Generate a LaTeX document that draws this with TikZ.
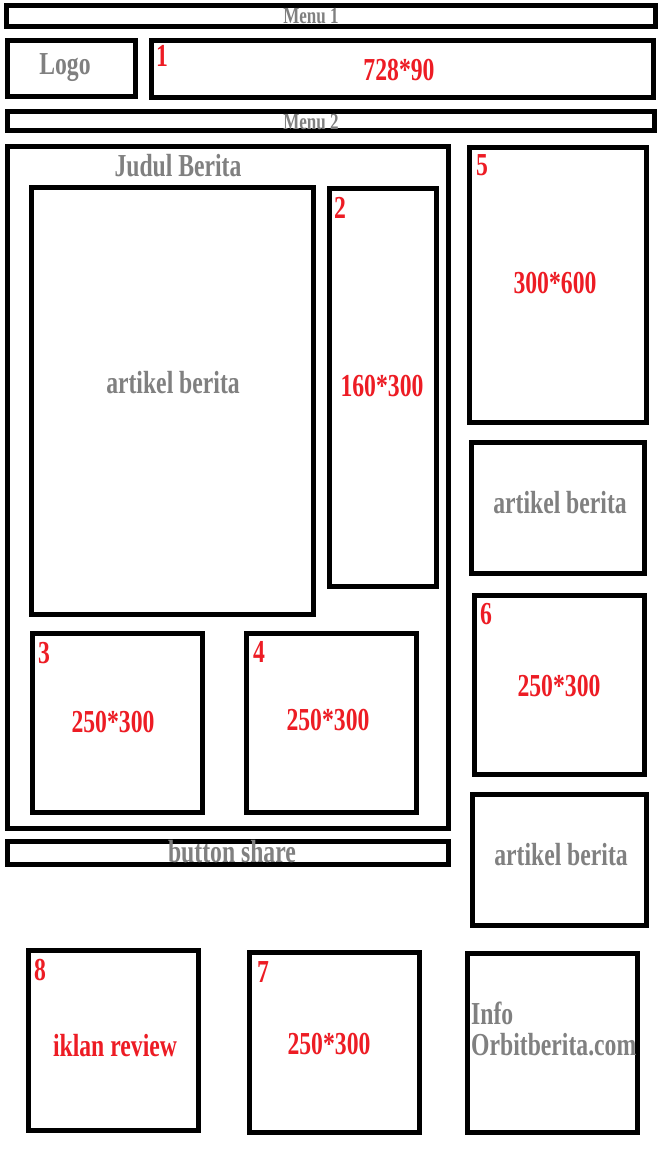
\documentclass[tikz,border=0pt]{standalone}
\usepackage{fontspec}
\setmainfont{Liberation Serif}[FakeStretch=0.74]
\definecolor{adred}{RGB}{237,28,36}
\definecolor{txtgray}{RGB}{128,128,128}
\begin{document}
\begin{tikzpicture} [x=1pt, y=-1pt, line join=miter, font=\bfseries\fontsize{32}{34}\selectfont,
  box/.style={draw=black, line width=5pt},
  gtxt/.style={text=txtgray, inner sep=0pt},
  rtxt/.style={text=adred, inner sep=0pt},
  num/.style={text=adred, inner sep=0pt, anchor=west}]
\def \W{663}\def \H{1164}
\useasboundingbox[fill=white] (0,0) rectangle (\W,\H);
% header
\draw[box] (6,6) rectangle (655,27);
\draw[box] (7.5,40.5) rectangle (135.5,96.5);
\draw[box] (151.5,40.5) rectangle (653.5,97.5);
\draw[box] (7.5,111.5) rectangle (654.5,130.5);
\node[gtxt, font=\bfseries\fontsize{23}{25}\selectfont] (menuA) at (311,16) {Menu 1};
\node[gtxt] (logo) at (65,68) {Logo};
\node[num] (nA) at (156,56) {1};
\node[rtxt] (leader) at (399,70) {728*90};
\node[gtxt, font=\bfseries\fontsize{23}{25}\selectfont] (menuB) at (311,122) {Menu 2};
% main column
\draw[box] (7.5,146.5) rectangle (448.5,828.5);
\draw[box] (31.5,187.5) rectangle (313.5,614.5);
\draw[box] (329.5,188.5) rectangle (436.5,586.5);
\draw[box] (32.5,633.5) rectangle (202.5,812.5);
\draw[box] (246.5,633.5) rectangle (416.5,812.5);
\draw[box] (7.5,841.5) rectangle (448.5,864.5);
\node[gtxt] (judul) at (178,166) {Judul Berita};
\node[gtxt] (artikel) at (173,383) {artikel berita};
\node[num] (nB) at (334,208) {2};
\node[rtxt] (sky) at (382,386) {160*300};
\node[num] (nC) at (38,653) {3};
\node[rtxt] (rectC) at (113,722) {250*300};
\node[num] (nD) at (253,652) {4};
\node[rtxt] (rectD) at (328,720) {250*300};
\node[gtxt] (share) at (232,852) {button share};
% sidebar
\draw[box] (469.5,147.5) rectangle (646.5,422.5);
\draw[box] (471.5,442.5) rectangle (644.5,573.5);
\draw[box] (474.5,595.5) rectangle (644.5,774.5);
\draw[box] (472.5,794.5) rectangle (646.5,925.5);
\node[num] (nE) at (476,165) {5};
\node[rtxt] (half) at (555,283) {300*600};
\node[gtxt] (artikelA) at (560,503) {artikel berita};
\node[num] (nF) at (480,614) {6};
\node[rtxt] (rectF) at (559,686) {250*300};
\node[gtxt] (artikelB) at (561,855) {artikel berita};
% bottom row
\draw[box] (28.5,950.5) rectangle (198.5,1130.5);
\draw[box] (249.5,952.5) rectangle (419.5,1132.5);
\draw[box] (467.5,953.5) rectangle (637.5,1132.5);
\node[num] (nH) at (34,970) {8};
\node[rtxt] (review) at (115,1046) {iklan review};
\node[num] (nG) at (257,972) {7};
\node[rtxt] (rectG) at (329,1044) {250*300};
\node[gtxt, anchor=west, align=left, font=\bfseries\fontsize{32}{31}\selectfont] (info) at (471,1029) {Info\\Orbitberita.com};
\end{tikzpicture}
\end{document}
